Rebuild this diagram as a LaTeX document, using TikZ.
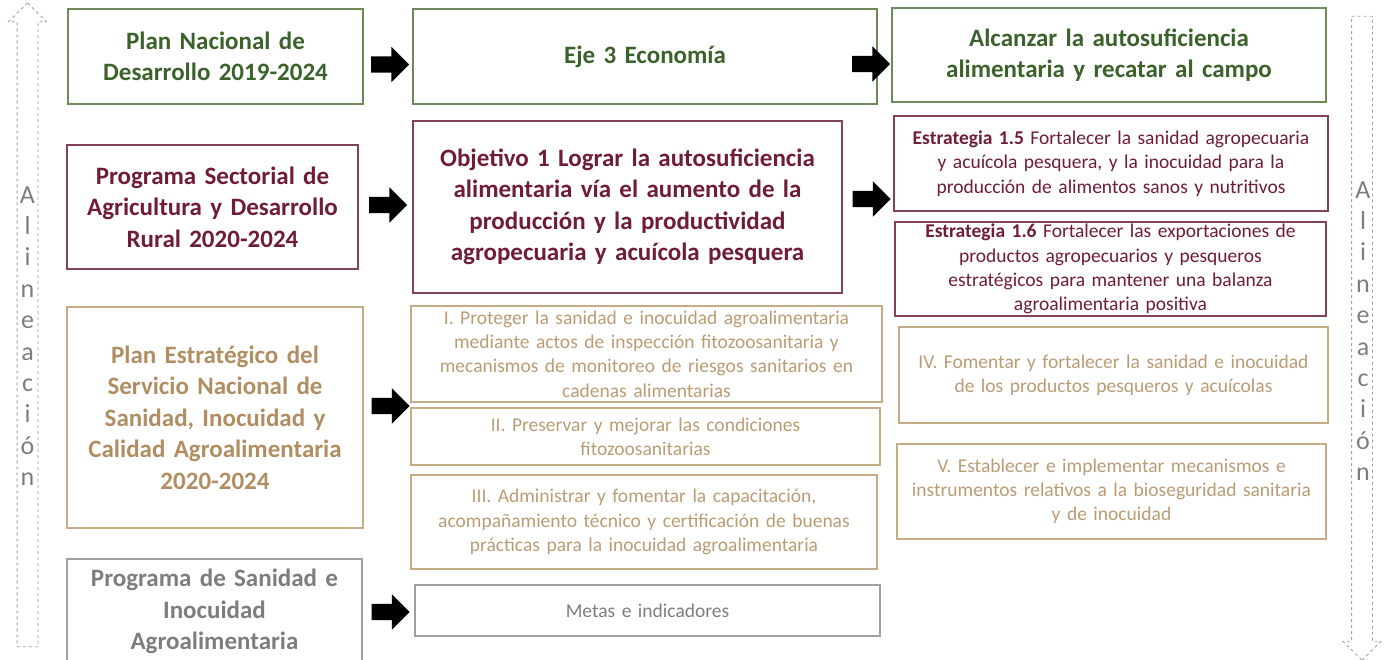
\documentclass[tikz,border=0pt]{standalone}
\usepackage{fontspec}
\setmainfont{Carlito}
\usepackage{tikz}
\usetikzlibrary{shapes.arrows}

\definecolor{verde}{RGB}{60,98,44}
\definecolor{verdeb}{RGB}{110,138,88}
\definecolor{guinda}{RGB}{112,28,56}
\definecolor{guindab}{RGB}{130,66,92}
\definecolor{dorado}{RGB}{176,142,98}
\definecolor{doradot}{RGB}{186,156,116}
\definecolor{doradob}{RGB}{198,172,134}
\definecolor{gris}{RGB}{125,125,125}
\definecolor{grisb}{RGB}{160,160,160}

\tikzset{
 caja/.style={draw, line width=1.3pt, align=center, inner sep=0pt},
 titulo/.style={font=\fontsize{25}{31.5}\selectfont\bfseries},
 texto/.style={font=\fontsize{19.5}{24.3}\selectfont},
 flecha/.style={single arrow, fill=black, inner xsep=0pt, inner ysep=8pt,
   minimum height=38, single arrow head extend=9.5},
 alinea/.style={single arrow, draw=grisb, dashed, line width=0.8pt, inner xsep=0pt,
   inner ysep=10pt, minimum height=644, single arrow head extend=8.5},
 vertical/.style={align=center, inner sep=0pt, text=gris, font=\fontsize{26}{31.4}\selectfont},
}

\begin{document}
\begin{tikzpicture}[x=1pt,y=-1pt]
\useasboundingbox (0,0) rectangle (1387,660);

% alineacion
\node[alinea, rotate=90] (up) at (27.5,330) {};
\node[vertical] (txtup) at (27.5,336) {A\\l\\i\\n\\e\\a\\c\\i\\ó\\n};
\node[alinea, rotate=-90] (down) at (1362,333) {};
\node[vertical] (txtdown) at (1363,331) {A\\l\\i\\n\\e\\a\\c\\i\\ó\\n};

% fila 1
\node[caja, titulo, draw=verdeb, text=verde, minimum width=295, minimum height=95, text width=291] (pnd) at (215.5,56.5) {Plan Nacional de\\Desarrollo 2019-2024};
\node[caja, titulo, draw=verdeb, text=verde, minimum width=464, minimum height=95, text width=460] (eje) at (645,56.5) {Eje 3 Economía};
\node[caja, titulo, draw=verdeb, text=verde, minimum width=434, minimum height=94, text width=430] (alc) at (1109,55) {Alcanzar la autosuficiencia\\alimentaria y recatar al campo};

% fila 2
\node[caja, titulo, draw=guindab, text=guinda, minimum width=291, minimum height=124, text width=287] (psa) at (212.5,207) {Programa Sectorial de\\Agricultura y Desarrollo\\Rural 2020-2024};
\node[caja, titulo, draw=guindab, text=guinda, minimum width=429, minimum height=172, text width=425] (obj) at (627.5,207) {Objetivo 1 Lograr la autosuficiencia\\alimentaria vía el aumento de la\\producción y la productividad\\agropecuaria y acuícola pesquera};
\node[caja, texto, draw=guindab, text=guinda, minimum width=434, minimum height=95, text width=430] (e15) at (1111,163.5) {\textbf{Estrategia 1.5} Fortalecer la sanidad agropecuaria\\y acuícola pesquera, y la inocuidad para la\\producción de alimentos sanos y nutritivos};
\node[caja, texto, draw=guindab, text=guinda, minimum width=431, minimum height=94, text width=427] (e16) at (1110.5,269) {\textbf{Estrategia 1.6} Fortalecer las exportaciones de\\productos agropecuarios y pesqueros\\estratégicos para mantener una balanza\\agroalimentaria positiva};

% fila 3
\node[caja, titulo, draw=doradob, text=dorado, minimum width=296, minimum height=221, text width=292] (pes) at (215,417.5) {Plan Estratégico del\\Servicio Nacional de\\Sanidad, Inocuidad y\\Calidad Agroalimentaria\\2020-2024};
\node[caja, texto, draw=doradob, text=doradot, minimum width=471, minimum height=96, text width=467] (obj1) at (646.5,354) {I. Proteger la sanidad e inocuidad agroalimentaria\\mediante actos de inspección fitozoosanitaria y\\mecanismos de monitoreo de riesgos sanitarios en\\cadenas alimentarias};
\node[caja, texto, draw=doradob, text=doradot, minimum width=469, minimum height=57, text width=465] (obj2) at (645.5,436.5) {II. Preservar y mejorar las condiciones\\fitozoosanitarias};
\node[caja, texto, draw=doradob, text=doradot, minimum width=466, minimum height=94, text width=462] (obj3) at (644,522) {III. Administrar y fomentar la capacitación,\\acompañamiento técnico y certificación de buenas\\prácticas para la inocuidad agroalimentaria};
\node[caja, texto, draw=doradob, text=doradot, minimum width=429, minimum height=96, text width=425] (obj4) at (1113.5,375) {IV. Fomentar y fortalecer la sanidad e inocuidad\\de los productos pesqueros y acuícolas};
\node[caja, texto, draw=doradob, text=doradot, minimum width=429, minimum height=95, text width=425] (obj5) at (1111.5,491.5) {V. Establecer e implementar mecanismos e\\instrumentos relativos a la bioseguridad sanitaria\\y de inocuidad};

% fila 4
\node[caja, titulo, draw=grisb, text=gris, minimum width=295, minimum height=105, text width=291] (psi) at (214.5,611.5) {Programa de Sanidad e\\Inocuidad\\Agroalimentaria};
\node[caja, texto, draw=grisb, text=gris, minimum width=465, minimum height=51, text width=461] (met) at (647.5,610.5) {Metas e indicadores};

% flechas
\foreach \x/\y [count=\i] in {386/64.5, 867/64, 384/205, 867.5/199, 386.5/406, 386.5/612} {
 \node[flecha] (f\i) at (\x,\y) {};
}
\end{tikzpicture}
\end{document}
